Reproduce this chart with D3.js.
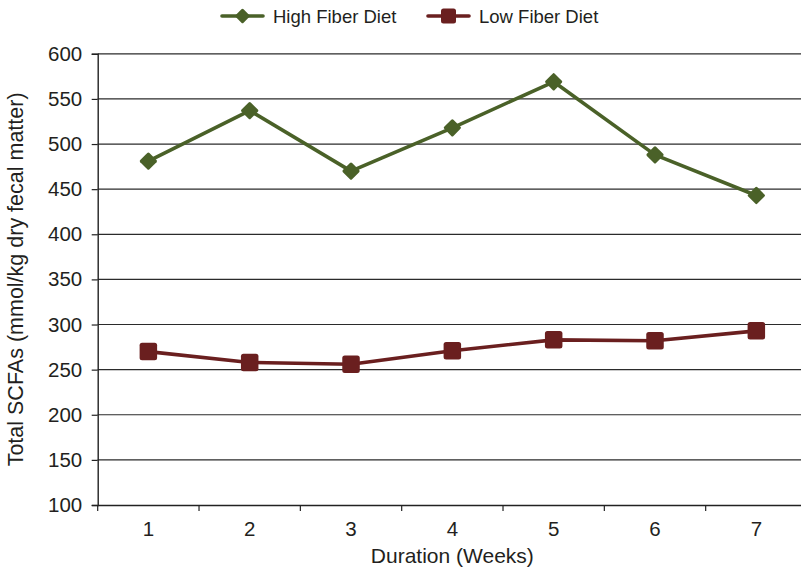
<!DOCTYPE html>
<html>
<head>
<meta charset="utf-8">
<script src="https://cdn.jsdelivr.net/npm/d3@7/dist/d3.min.js"></script>
<style>
  html, body { margin: 0; padding: 0; background: #fff; }
  svg { display: block; font-family: "Liberation Sans", Arial, Helvetica, sans-serif; }
</style>
</head>
<body>
<svg id="chart" width="801" height="575"></svg>
<script>
// Weekly total short-chain fatty acids under two diets
const weeks = ["1", "2", "3", "4", "5", "6", "7"];
const highFiber = [481, 537, 470, 518, 569, 488, 443];
const lowFiber = [270, 258, 256, 271, 283, 282, 293];
const yTicks = [100, 150, 200, 250, 300, 350, 400, 450, 500, 550, 600];

const svg = d3.select("#chart");
const margin = { left: 97.7, right: -6, top: 53.8, bottom: 70 };
const W = 801, H = 575;

const x = d3.scaleBand().domain(weeks).range([margin.left, W - margin.right]).paddingInner(0).paddingOuter(0);
const y = d3.scaleLinear().domain([100, 600]).range([505, margin.top]);

const green = "#4a6128";
const red = "#6a1f1f";
const ink = "#231f20";

// horizontal gridlines
svg.append("g")
  .selectAll("line")
  .data(yTicks.filter(d => d > 100))
  .join("line")
  .attr("x1", margin.left).attr("x2", W)
  .attr("y1", d => y(d)).attr("y2", d => y(d))
  .attr("stroke", "#2b2b2b").attr("stroke-width", 1.2);

// y axis
const yAxis = svg.append("g")
  .attr("transform", `translate(${margin.left},0)`)
  .call(d3.axisLeft(y).tickValues(yTicks).tickSize(6).tickPadding(9.5));
yAxis.select(".domain").attr("stroke", "#222").attr("stroke-width", 1.4);
yAxis.selectAll(".tick line").attr("stroke", "#222").attr("stroke-width", 1.2);
yAxis.selectAll(".tick text").attr("font-size", 20.5).attr("fill", ink)
  .attr("font-family", "Liberation Sans, Arial, sans-serif");

// x axis with ticks at band edges
const xAxis = svg.append("g")
  .attr("transform", `translate(0,505)`)
  .call(d3.axisBottom(x).tickSize(0).tickPadding(16));
xAxis.select(".domain").attr("stroke", "#222").attr("stroke-width", 1.4);
xAxis.selectAll(".tick text").attr("font-size", 20.5).attr("fill", ink)
  .attr("font-family", "Liberation Sans, Arial, sans-serif");
svg.append("g")
  .selectAll("line")
  .data(weeks)
  .join("line")
  .attr("x1", d => x(d)).attr("x2", d => x(d))
  .attr("y1", 505).attr("y2", 511)
  .attr("stroke", "#222").attr("stroke-width", 1.2);

// axis titles
svg.append("text")
  .attr("x", (margin.left + 807) / 2).attr("y", 563)
  .attr("text-anchor", "middle").attr("font-size", 21).attr("fill", ink)
  .text("Duration (Weeks)");
svg.append("text")
  .attr("transform", `translate(23,${(53.8 + 505) / 2}) rotate(-90)`)
  .attr("text-anchor", "middle").attr("font-size", 21.5).attr("fill", ink)
  .text("Total SCFAs (mmol/kg dry fecal matter)");

const cx = d => x(d) + x.bandwidth() / 2;
const line = d3.line().x(d => cx(d.w)).y(d => y(d.v));

const series = [
  { name: "High Fiber Diet", values: highFiber, color: green, shape: "diamond" },
  { name: "Low Fiber Diet", values: lowFiber, color: red, shape: "square" }
];

function marker(g, shape, color) {
  if (shape === "diamond") {
    g.append("rect").attr("x", -6.5).attr("y", -6.5).attr("width", 13).attr("height", 13)
      .attr("rx", 1.5).attr("transform", "rotate(45)").attr("fill", color);
  } else {
    g.append("rect").attr("x", -8.75).attr("y", -8.75).attr("width", 17.5).attr("height", 17.5)
      .attr("rx", 2.5).attr("fill", color);
  }
}

series.forEach(s => {
  const pts = s.values.map((v, i) => ({ w: weeks[i], v }));
  svg.append("path").datum(pts)
    .attr("d", line).attr("fill", "none")
    .attr("stroke", s.color).attr("stroke-width", 3.6).attr("stroke-linejoin", "round");
  svg.append("g").selectAll("g")
    .data(pts).join("g")
    .attr("transform", d => `translate(${cx(d.w)},${y(d.v)})`)
    .each(function () { marker(d3.select(this), s.shape, s.color); });
});

// legend
const legendItems = [
  { s: series[0], x0: 222 },
  { s: series[1], x0: 428 }
];
legendItems.forEach(({ s, x0 }) => {
  const g = svg.append("g").attr("transform", `translate(${x0},16)`);
  g.append("line").attr("x1", 0).attr("x2", 41).attr("y1", 0).attr("y2", 0)
    .attr("stroke", s.color).attr("stroke-width", 3.6).attr("stroke-linecap", "round");
  const m = g.append("g").attr("transform", "translate(20.5,0)");
  if (s.shape === "diamond") {
    m.append("rect").attr("x", -5.5).attr("y", -5.5).attr("width", 11).attr("height", 11)
      .attr("rx", 1.5).attr("transform", "rotate(45)").attr("fill", s.color);
  } else {
    m.append("rect").attr("x", -7.5).attr("y", -7.5).attr("width", 15).attr("height", 15)
      .attr("rx", 2.5).attr("fill", s.color);
  }
  g.append("text").attr("x", 51).attr("y", 6.5)
    .attr("font-size", 18.5).attr("fill", ink).text(s.name);
});
</script>
</body>
</html>
